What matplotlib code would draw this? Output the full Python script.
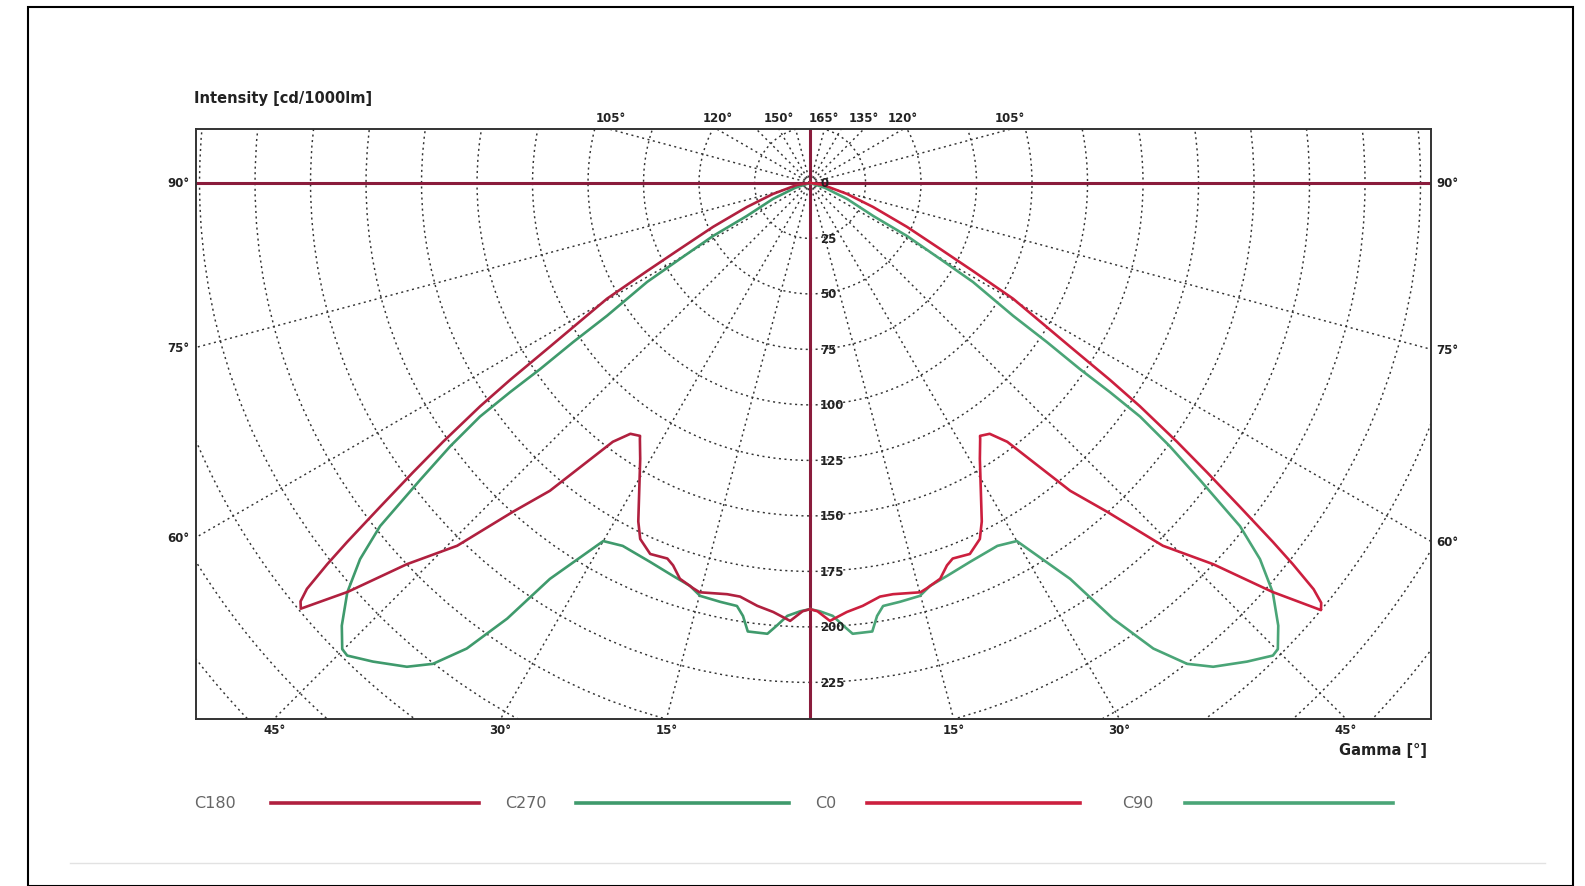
import numpy as np
import matplotlib
matplotlib.use("Agg")
import matplotlib.pyplot as plt
from matplotlib.patches import Circle, Rectangle
from matplotlib.lines import Line2D

# ---------------- data ----------------
legend_labels = ["C180", "C270", "C0", "C90"]

# C180 (left side, red) : gamma [deg] and intensity [cd/1000lm], in drawing order
gamma_c180 = [0, 1.0, 2.6, 4.9, 7.1, 9.6, 11.4, 15.1, 16.1, 18.2, 19.7, 20.8, 23.3, 25.5, 26.9,
              31.6, 33.6, 33.9, 35.6, 37.3, 40.2, 42.1, 44.2, 46.6, 48.5, 50.1, 50.6,
              51.1, 51.7, 52.2, 53.0, 53.9, 54.8, 55.9, 56.7, 57.8, 60.3, 61.6, 63.1, 65.6,
              69.1, 73.4, 81.3, 90.0]
i_c180 = [192, 193, 197.5, 194, 192, 189, 189, 191, 190, 187.7, 183, 181, 182, 177.7, 171,
          146, 138.5, 137.3, 139, 146.6, 181.6, 199.7, 228, 250, 278, 299, 297,
          291.2, 277.1, 263.9, 242.5, 221.5, 202.3, 179.4, 161.7, 138.5, 105.3, 83.4, 65.7, 48,
          30.4, 17.4, 5.9, 0]

# C270 (left side, green)
gamma_c270 = [0, 1.3, 3.0, 4.3, 5.4, 7.9, 8.8, 9.8, 12.1, 14.9, 16.6, 19.2, 22.9, 27.3, 30.0,
              33.3, 34.8, 36.4, 38.1, 39.8, 42.4, 44.4, 45.1, 46.6, 48.5, 50.1, 51.4, 52.7, 53.8,
              54.7, 55.1, 55.4, 56.1, 56.8, 58.7, 59.7, 61.3, 62.4, 66.6, 71.6, 90.0]
i_c270 = [192, 193, 195.3, 200, 204, 204, 197.4, 193.4, 193, 192.5, 189.4, 187.5, 185.3, 184, 186.3,
          213.4, 239, 260.6, 275.3, 283.7, 292, 298, 297.5, 290.3, 278.3, 264.2, 247.8, 220.8, 200.8,
          182.2, 164.7, 147.7, 128.6, 109.3, 85.9, 67.8, 49.8, 32, 18.2, 7.1, 0]

# C0 (right side, red)
gamma_c0 = [0, 1.0, 2.6, 4.9, 7.1, 9.6, 11.4, 15.1, 16.1, 18.2, 19.7, 20.8, 23.3, 25.5, 26.9,
            31.6, 33.6, 33.9, 35.6, 37.3, 40.2, 42.1, 44.2, 46.6, 48.5, 50.1, 50.6,
            51.1, 51.7, 52.2, 53.0, 53.9, 54.8, 55.9, 56.7, 57.8, 60.3, 61.6, 63.1, 65.6,
            69.1, 73.4, 81.3, 90.0]
i_c0 = [192, 193, 197.5, 194, 192, 189, 189, 191, 190, 187.7, 183, 181, 182, 177.7, 171,
        146, 138.5, 137.3, 139, 146.6, 181.6, 199.7, 228, 250, 278, 300, 298,
        291.5, 277.1, 263.9, 242.5, 221.5, 202.3, 179.4, 161.7, 138.5, 105.3, 83.4, 65.7, 48,
        30.4, 17.4, 5.9, 0]

# C90 (right side, green)
gamma_c90 = [0, 1.3, 3.0, 4.3, 5.4, 7.9, 8.8, 9.8, 12.1, 14.9, 16.6, 19.2, 22.9, 27.3, 30.0,
             33.3, 34.8, 36.4, 38.1, 39.8, 42.4, 44.4, 45.1, 46.6, 48.5, 50.1, 51.4, 52.7, 53.8,
             54.7, 55.1, 55.4, 56.1, 56.8, 58.7, 59.7, 61.3, 62.4, 66.6, 71.6, 90.0]
i_c90 = [192, 193, 195.3, 200, 204, 204, 197.4, 193.4, 193, 192.5, 189.4, 187.5, 185.3, 184, 186.3,
         213.4, 239, 260.6, 275.3, 283.7, 292, 298, 297.5, 290.3, 278.3, 264.2, 247.8, 220.8, 200.8,
         182.2, 164.7, 147.7, 128.6, 109.3, 85.9, 67.8, 49.8, 32, 18.2, 7.1, 0]

ring_labels = [0, 25, 50, 75, 100, 125, 150, 175, 200, 225]
side_angle_labels = [90, 75, 60]
bottom_angle_labels = [45, 30, 15]
top_left_angle_labels = [105, 120, 150]
top_right_angle_labels = [165, 135, 120, 105]

# ---------------- style ----------------
col_c180 = "#b0203f"
col_c0 = "#cc1f3e"
col_c270 = "#3f9a6c"
col_c90 = "#4aa577"
col_axis = "#8a1c3c"
col_grid = "#333333"
grid_ls = (0, (1.4, 2.4))

XMIN, XMAX, YMIN, YMAX = -276.6, 279.5, -241.4, 24.1

fig = plt.figure(figsize=(15.85, 8.87), dpi=100)
fig.patch.set_facecolor("white")
ax = fig.add_axes([196 / 1585, 1 - 719.8 / 887, (1430.5 - 196) / 1585, (719.8 - 130.4) / 887])
ax.set_xlim(XMIN, XMAX)
ax.set_ylim(YMIN, YMAX)
ax.set_xticks([])
ax.set_yticks([])
for s in ax.spines.values():
    s.set_color("#333333")
    s.set_linewidth(1.4)

# grid: concentric circles and rays
for r in range(25, 400, 25):
    ax.add_patch(Circle((0, 0), r, fill=False, ls=grid_ls, lw=1.05, ec=col_grid, zorder=1))
for a in range(0, 360, 15):
    if a % 90 == 0:
        continue
    t = np.radians(a)
    ax.plot([0, 420 * np.sin(t)], [0, -420 * np.cos(t)], ls=grid_ls, lw=1.05, color=col_grid, zorder=1)

# main axes lines
ax.axhline(0, color=col_axis, lw=2.2, zorder=2)
ax.axvline(0, color=col_axis, lw=2.2, zorder=2)


def to_xy(g, inten, side):
    t = np.radians(np.asarray(g, dtype=float))
    i = np.asarray(inten, dtype=float)
    return side * i * np.sin(t), -i * np.cos(t)


for g, i, side, col in [(gamma_c270, i_c270, -1, col_c270), (gamma_c90, i_c90, 1, col_c90),
                        (gamma_c180, i_c180, -1, col_c180), (gamma_c0, i_c0, 1, col_c0)]:
    x, y = to_xy(g, i, side)
    ax.plot(x, y, color=col, lw=1.9, zorder=3, solid_joinstyle="round")

# radial value labels
for v in ring_labels:
    ax.text(4.5, -v, str(v), ha="left", va="center", fontsize=8.5, fontweight="bold",
            color="#222222", zorder=4)

lab_kw = dict(fontsize=8.5, fontweight="bold", color="#222222", annotation_clip=False)
# side labels
for a in side_angle_labels:
    t = np.radians(a)
    yl = XMIN * np.cos(t) / np.sin(t)
    ax.annotate(f"{a}°", xy=(XMIN, yl), xytext=(-5, 0), textcoords="offset points",
                ha="right", va="center", **lab_kw)
    yr = -XMAX * np.cos(t) / np.sin(t)
    ax.annotate(f"{a}°", xy=(XMAX, yr), xytext=(4, 0), textcoords="offset points",
                ha="left", va="center", **lab_kw)
# bottom labels
for a in bottom_angle_labels:
    t = np.radians(a)
    xb = -YMIN * np.tan(t)
    for side in (-1, 1):
        ax.annotate(f"{a}°", xy=(side * xb, YMIN), xytext=(0, -3), textcoords="offset points",
                    ha="center", va="top", **lab_kw)
# top labels
for a, side in [(a, -1) for a in top_left_angle_labels] + [(a, 1) for a in top_right_angle_labels]:
    t = np.radians(a)
    k = YMAX / (-np.cos(t))
    ax.annotate(f"{a}°", xy=(side * k * np.sin(t), YMAX), xytext=(0, 4), textcoords="offset points",
                ha="center", va="bottom", **lab_kw)

fig.text(194 / 1585, 1 - 98 / 887, "Intensity [cd/1000lm]", ha="left", va="center",
         fontsize=10.5, fontweight="bold", color="#222222")
fig.text(1427 / 1585, 1 - 751 / 887, "Gamma [°]", ha="right", va="center",
         fontsize=10.5, fontweight="bold", color="#222222")

# legend row
leg_y = 1 - 804 / 887
leg_text_x = [194, 505, 815, 1122]
leg_line_x = [(271, 479), (576, 789), (867, 1080), (1185, 1393)]
leg_cols = [col_c180, col_c270, col_c0, col_c90]
for lab, tx, (x0, x1), c in zip(legend_labels, leg_text_x, leg_line_x, leg_cols):
    fig.text(tx / 1585, leg_y, lab, ha="left", va="center", fontsize=11.5, color="#666666")
    fig.add_artist(Line2D([x0 / 1585, x1 / 1585], [leg_y, leg_y], color=c, lw=2.6,
                          transform=fig.transFigure))

# faint separator and outer border
fig.add_artist(Line2D([70 / 1585, 1545 / 1585], [1 - 864 / 887, 1 - 864 / 887], color="#e2e2e2",
                      lw=1.0, transform=fig.transFigure))
fig.add_artist(Rectangle((28 / 1585, 1 - 886.5 / 887), (1573 - 28) / 1585, (886.5 - 8) / 887,
                         fill=False, ec="black", lw=1.5, transform=fig.transFigure))

fig.savefig("out.png", dpi=100, facecolor="white")
